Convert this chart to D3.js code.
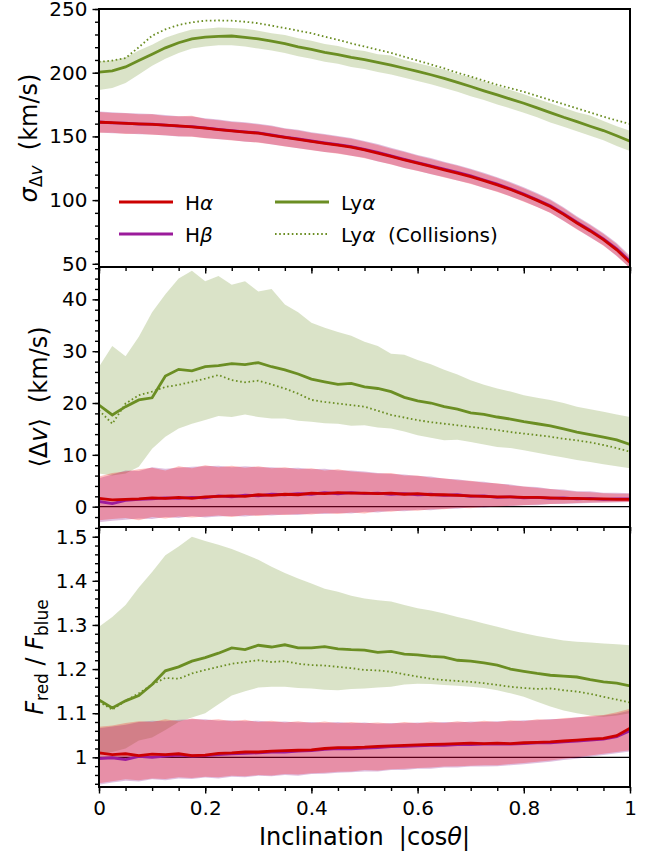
<!DOCTYPE html>
<html>
<head>
<meta charset="utf-8">
<script src="https://cdn.jsdelivr.net/npm/d3@7"></script>
<style>
body { margin: 0; background: #fff; }
text { font-family: "DejaVu Sans", sans-serif; }
</style>
</head>
<body>
<div id="chart"></div>
<script>
// inclination grid |cos theta|
const incl = [0,0.025,0.05,0.075,0.1,0.125,0.15,0.175,0.2,0.225,0.25,0.275,0.3,0.325,0.35,0.375,0.4,0.425,0.45,0.475,0.5,
              0.525,0.55,0.575,0.6,0.625,0.65,0.675,0.7,0.725,0.75,0.775,0.8,0.825,0.85,0.875,0.9,0.925,0.95,0.975,1];

// panel 1: sigma_dv (km/s)
const sigLya     = [200.5,201.5,204.5,209.5,214.5,219.5,223.5,226.5,228.0,228.5,228.8,227.8,226.5,224.8,222.8,220.2,218.3,216.0,214.2,212.0,210.3,208.2,206.0,203.5,201.0,198.4,195.6,192.4,189.2,185.8,182.6,179.3,176.0,172.4,168.7,165.0,161.6,158.0,154.6,150.5,146.2];
const sigLyaHi   = [209,209.5,212,217.5,222,227.5,231,234,234.5,235.5,235,234.5,233,231,229.5,227,225,222.5,221,218.5,217,214.5,213.5,210,207.5,205,202.5,199,196.5,193,189.5,186.5,183,179.5,176,172.5,169,166.5,162,158,154.5];
const sigLyaLo   = [186.5,188,192,198.5,205.5,211,215.5,219,220.5,221.5,221.5,220.5,219,217.5,215.5,213,211,208.5,207,204.5,203,200.5,198.5,196,193.5,191,188,185,181.5,178.5,175,172,168.5,165,161,157.5,154,150.5,147,142.5,138.5];
const sigLyaColl = [208.5,209.5,211.5,220,229,234,237.5,239.5,240.8,241,240.8,240,238.8,237,235,233,231,228.3,225.8,223,220.5,218,215.6,212.5,209.5,206.5,203.4,200,197,193.8,190.5,187.8,185,181.8,178.6,175.3,172,168.8,165.5,162.5,159.8];
const sigHa      = [161.1,160.8,160.3,159.9,159.5,158.8,158.2,157.4,156.5,155.4,154.4,153.4,152.5,150.9,149.2,147.7,146.1,144.6,143.2,141.5,139.5,136.9,134.3,131.5,129.0,126.4,123.8,121.2,118.5,115.3,112.0,108.3,104.2,99.8,95.0,88.8,82.0,75.8,69.0,61.0,51.0];
const sigHaHi    = [169.1,168.4,168.2,167.3,167.3,166.1,165.8,166.2,163.7,162.7,161.4,160.6,159.4,158.0,156.0,154.6,152.7,151.3,149.7,148.1,145.8,143.3,140.4,137.7,134.9,132.3,129.5,126.9,124.0,120.7,117.3,113.5,109.3,104.8,99.9,93.6,86.6,80.3,73.4,65.3,55.2];
const sigHaLo    = [152.8,152.8,151.9,152.0,151.3,151.0,150.2,149.8,148.6,147.9,146.8,146.1,145.1,143.8,142.0,140.8,139.1,137.8,136.4,134.9,132.9,130.5,127.9,125.3,122.8,120.4,117.8,115.4,112.7,109.7,106.4,102.9,98.8,94.6,89.8,83.8,77.0,71.0,64.2,56.4,46.5];
const sigHb      = [161.3,160.6,160.5,159.7,159.6,158.9,158.0,157.6,156.7,155.6,154.6,153.6,152.8,151.2,149.5,148.0,146.4,144.9,143.6,141.9,139.9,137.4,134.8,132.0,129.4,126.9,124.3,121.7,119.0,115.8,112.5,108.8,104.7,100.3,95.5,89.3,82.6,76.4,69.6,61.8,52.0];
const sigHbHi    = [169.5,168.9,168.4,167.9,167.5,166.8,165.9,165.6,164.2,163.3,161.8,161.2,159.9,158.6,156.4,155.2,153.3,151.9,150.3,148.8,146.4,144.0,141.0,138.4,135.5,133.0,130.2,127.6,124.7,121.4,118.0,114.2,110.0,105.6,100.6,94.4,87.4,81.1,74.2,66.3,56.4];
const sigHbLo    = [153.1,152.5,152.2,151.6,151.4,150.8,150.0,149.9,148.8,147.7,147.1,145.9,145.4,143.6,142.3,140.7,139.4,137.7,136.7,134.8,133.2,130.4,128.2,125.3,123.1,120.3,118.1,115.3,113.0,109.6,106.7,102.8,99.1,94.5,90.1,83.6,77.3,70.7,64.6,56.0,46.9];

// panel 2: <dv> (km/s)
const dvLya     = [19.6,17.7,19.3,20.6,21.0,25.2,26.5,26.2,27.0,27.2,27.6,27.4,27.8,27.0,26.4,25.6,24.6,24.1,23.6,23.8,23.1,22.8,22.2,21.1,20.4,20.0,19.3,18.8,18.1,17.8,17.3,16.9,16.4,16.0,15.6,15.0,14.4,13.9,13.4,12.9,12.0];
const dvLyaHi   = [27,31,29,32.8,37.5,41,44,45.5,43.5,44.5,42.8,43.5,41.5,42,39,37.5,35.5,34.5,33.7,33,31.8,31,29.5,29.3,28.3,27.5,26.4,25.5,24.4,23.5,22.8,22.2,21.5,21,20.6,20,19.3,18.8,18.3,17.8,17.3];
const dvLyaLo   = [6.4,6.0,6.4,7.7,11.2,13.5,15.1,16.0,16.7,17.5,17.3,17.8,17.3,17.0,17.0,16.6,16.4,16.1,16.0,15.6,15.7,15.3,15.1,14.5,13.8,13.3,12.8,12.9,12.5,12.0,11.5,11.3,10.9,10.4,9.9,9.5,9.0,8.6,8.2,7.8,7.4];
const dvLyaColl = [18.6,16.0,19.9,21.5,22.2,23.1,23.5,24.1,24.7,25.4,24.4,24.0,24.3,23.6,22.8,21.8,20.6,20.2,19.9,19.6,19.3,18.5,17.7,17.2,16.7,16.3,16.0,15.7,15.4,15.1,14.8,14.4,14.1,13.8,13.5,13.1,12.8,12.4,11.9,11.3,10.6];
const dvHa      = [1.6,1.3,1.4,1.5,1.7,1.6,1.8,1.6,1.9,2.0,2.1,2.0,2.3,2.2,2.4,2.3,2.6,2.5,2.7,2.6,2.6,2.5,2.6,2.4,2.5,2.3,2.3,2.2,2.1,2.0,1.9,1.9,1.8,1.8,1.7,1.6,1.6,1.5,1.5,1.4,1.4];
const dvHaHi    = [5.8,6.5,6.8,7.2,7.5,7.0,7.8,7.4,8.0,7.6,7.9,7.5,7.8,7.4,7.6,7.2,7.4,7.0,7.2,6.8,6.6,6.4,6.5,6.0,6.0,5.6,5.5,5.1,5.0,4.6,4.5,4.1,3.9,3.6,3.4,3.1,2.9,2.8,2.6,2.5,2.5];
const dvHaLo    = [-2.6,-2.4,-2.2,-2.6,-2.0,-2.3,-1.9,-2.1,-1.9,-1.7,-2.0,-1.6,-1.8,-1.5,-1.6,-1.4,-1.5,-1.2,-1.4,-1.1,-1.3,-0.9,-1.0,-0.7,-0.8,-0.5,-0.5,-0.2,-0.3,0.0,0.0,0.2,0.3,0.4,0.5,0.6,0.7,0.8,0.8,0.9,0.9];
const dvHb      = [1.0,0.6,1.2,1.4,1.5,1.7,1.6,1.8,1.7,2.1,1.9,2.2,2.1,2.4,2.3,2.5,2.4,2.7,2.5,2.7,2.5,2.6,2.4,2.5,2.3,2.4,2.2,2.3,2.0,2.1,1.8,1.9,1.7,1.8,1.6,1.7,1.5,1.6,1.4,1.5,1.5];
const dvHbHi    = [5.5,6.2,7.0,6.9,7.6,7.3,7.5,7.7,7.8,7.9,7.6,7.8,7.6,7.6,7.4,7.5,7.2,7.3,7.0,7.0,6.8,6.5,6.3,6.2,5.9,5.8,5.4,5.3,4.9,4.8,4.4,4.3,3.9,3.8,3.4,3.3,3.0,3.0,2.7,2.7,2.6];
const dvHbLo    = [-3.0,-2.7,-2.5,-2.3,-2.4,-2.0,-2.2,-1.8,-2.1,-1.9,-1.8,-1.9,-1.6,-1.7,-1.5,-1.6,-1.3,-1.4,-1.2,-1.3,-1.0,-1.1,-0.8,-0.9,-0.6,-0.7,-0.4,-0.4,-0.1,-0.2,0.1,0.1,0.3,0.3,0.5,0.5,0.6,0.7,0.8,0.8,0.9];

// panel 3: F_red / F_blue
const frLya     = [1.130,1.112,1.128,1.140,1.165,1.196,1.205,1.218,1.226,1.236,1.248,1.244,1.254,1.250,1.255,1.248,1.248,1.251,1.246,1.244,1.243,1.238,1.240,1.234,1.232,1.229,1.227,1.220,1.218,1.214,1.209,1.200,1.195,1.190,1.186,1.184,1.182,1.176,1.171,1.168,1.162];
const frLyaHi   = [1.296,1.318,1.345,1.385,1.420,1.458,1.478,1.500,1.490,1.482,1.472,1.460,1.448,1.432,1.418,1.405,1.394,1.382,1.375,1.366,1.360,1.356,1.353,1.345,1.338,1.333,1.326,1.318,1.311,1.303,1.296,1.288,1.281,1.275,1.270,1.265,1.262,1.260,1.258,1.256,1.254];
const frLyaLo   = [1.005,1.012,1.020,1.038,1.045,1.062,1.080,1.090,1.100,1.120,1.140,1.150,1.158,1.160,1.160,1.157,1.156,1.153,1.152,1.155,1.156,1.158,1.160,1.165,1.167,1.166,1.164,1.162,1.160,1.157,1.152,1.145,1.137,1.126,1.115,1.106,1.100,1.095,1.092,1.095,1.100];
const frLyaColl = [1.126,1.108,1.128,1.145,1.165,1.180,1.178,1.190,1.198,1.205,1.212,1.216,1.220,1.216,1.218,1.212,1.209,1.208,1.205,1.202,1.198,1.197,1.194,1.188,1.183,1.178,1.175,1.173,1.171,1.168,1.164,1.160,1.157,1.155,1.156,1.152,1.149,1.144,1.137,1.131,1.124];
const frHa      = [1.010,1.006,1.008,1.004,1.007,1.006,1.008,1.004,1.005,1.009,1.010,1.012,1.012,1.014,1.015,1.016,1.017,1.020,1.022,1.022,1.023,1.025,1.026,1.027,1.028,1.029,1.030,1.031,1.032,1.031,1.032,1.031,1.033,1.034,1.035,1.037,1.039,1.041,1.043,1.049,1.066];
const frHaHi    = [1.069,1.072,1.078,1.082,1.080,1.086,1.082,1.088,1.084,1.086,1.082,1.085,1.080,1.083,1.079,1.082,1.078,1.081,1.077,1.080,1.077,1.079,1.076,1.080,1.077,1.081,1.078,1.082,1.079,1.083,1.080,1.084,1.082,1.086,1.085,1.089,1.090,1.094,1.096,1.102,1.110];
const frHaLo    = [0.941,0.946,0.950,0.948,0.952,0.951,0.955,0.953,0.956,0.955,0.958,0.957,0.960,0.959,0.962,0.961,0.964,0.965,0.967,0.968,0.971,0.970,0.973,0.974,0.976,0.977,0.979,0.980,0.981,0.982,0.982,0.985,0.987,0.990,0.993,0.997,1.000,1.004,1.008,1.012,1.016];
const frHb      = [0.997,0.999,0.995,1.002,1.000,1.003,1.005,1.003,1.004,1.006,1.008,1.009,1.010,1.012,1.012,1.014,1.015,1.018,1.020,1.019,1.021,1.022,1.024,1.025,1.026,1.027,1.027,1.029,1.029,1.030,1.030,1.030,1.031,1.033,1.033,1.035,1.037,1.039,1.041,1.047,1.060];
const frHbHi    = [1.066,1.070,1.074,1.080,1.083,1.082,1.085,1.086,1.086,1.083,1.084,1.082,1.083,1.080,1.081,1.079,1.080,1.078,1.080,1.077,1.079,1.076,1.078,1.077,1.079,1.078,1.080,1.079,1.081,1.080,1.082,1.082,1.084,1.084,1.087,1.087,1.091,1.092,1.095,1.099,1.106];
const frHbLo    = [0.938,0.943,0.947,0.945,0.950,0.948,0.952,0.951,0.954,0.952,0.956,0.955,0.958,0.957,0.960,0.958,0.962,0.963,0.965,0.966,0.968,0.968,0.971,0.971,0.974,0.974,0.977,0.977,0.979,0.979,0.980,0.982,0.984,0.987,0.990,0.994,0.997,1.001,1.005,1.009,1.013];

// tick labels
const xTicks = [0, 0.2, 0.4, 0.6, 0.8, 1];
const sigTicks = [50, 100, 150, 200, 250];
const dvTicks = [0, 10, 20, 30, 40];
const frTicks = [1, 1.1, 1.2, 1.3, 1.4, 1.5];

const red = "#cc0000", purple = "#9b1b9b", green = "#6b8e23";

const width = 657, height = 856;
const svg = d3.select("#chart").append("svg")
    .attr("width", width)
    .attr("height", height);

const x = d3.scaleLinear().domain([0, 1]).range([99, 630]);

const panels = [
    {top: 9, bottom: 267, domain: [47.5, 250], major: sigTicks, minor: d3.range(50, 251, 10), ref: null,
     ha: sigHa, haLo: sigHaLo, haHi: sigHaHi, hb: sigHb, hbLo: sigHbLo, hbHi: sigHbHi,
     ly: sigLya, lyLo: sigLyaLo, lyHi: sigLyaHi, lyc: sigLyaColl},
    {top: 267, bottom: 527, domain: [-3.92, 46.24], major: dvTicks, minor: d3.range(-2, 47, 2), ref: 0,
     ha: dvHa, haLo: dvHaLo, haHi: dvHaHi, hb: dvHb, hbLo: dvHbLo, hbHi: dvHbHi,
     ly: dvLya, lyLo: dvLyaLo, lyHi: dvLyaHi, lyc: dvLyaColl},
    {top: 527, bottom: 787, domain: [0.9327, 1.522], major: frTicks, minor: d3.range(0.94, 1.53, 0.02), ref: 1,
     ha: frHa, haLo: frHaLo, haHi: frHaHi, hb: frHb, hbLo: frHbLo, hbHi: frHbHi,
     ly: frLya, lyLo: frLyaLo, lyHi: frLyaHi, lyc: frLyaColl}
];

function fmt(d) {
    return Math.abs(d - Math.round(d)) < 1e-9 ? String(Math.round(d)) : d3.format(".1f")(d);
}

function rich(sel, parts) {
    parts.forEach(function (pt) {
        const t = sel.append("tspan").text(pt.t);
        if (pt.i) t.attr("font-style", "italic");
        if (pt.fs) t.attr("font-size", pt.fs);
        if (pt.dy) t.attr("dy", pt.dy);
    });
}

panels.forEach(function (p, i) {
    const y = d3.scaleLinear().domain(p.domain).range([p.bottom, p.top]);
    const g = svg.append("g");

    svg.append("clipPath").attr("id", "clip" + i)
        .append("rect")
        .attr("x", x(0)).attr("y", p.top)
        .attr("width", x(1) - x(0)).attr("height", p.bottom - p.top);
    const plot = g.append("g").attr("clip-path", "url(#clip" + i + ")");

    if (p.ref !== null) {
        plot.append("line")
            .attr("x1", x(0)).attr("x2", x(1))
            .attr("y1", y(p.ref)).attr("y2", y(p.ref))
            .attr("stroke", "#000").attr("stroke-width", 1.3);
    }

    const band = (lo, hi) => d3.area()
        .x((d, j) => x(incl[j]))
        .y0((d, j) => y(lo[j]))
        .y1((d, j) => y(hi[j]));
    const line = d3.line().x((d, j) => x(incl[j])).y(d => y(d));

    plot.append("path").datum(incl).attr("d", band(p.lyLo, p.lyHi))
        .attr("fill", green).attr("fill-opacity", 0.25);
    plot.append("path").datum(incl).attr("d", band(p.hbLo, p.hbHi))
        .attr("fill", "#800080").attr("fill-opacity", 0.25);
    plot.append("path").datum(incl).attr("d", band(p.haLo, p.haHi))
        .attr("fill", "#ff0000").attr("fill-opacity", 0.25);

    plot.append("path").datum(p.lyc).attr("d", line)
        .attr("fill", "none").attr("stroke", green).attr("stroke-width", 1.8)
        .attr("stroke-dasharray", "1.6,2.6");
    plot.append("path").datum(p.ly).attr("d", line)
        .attr("fill", "none").attr("stroke", green).attr("stroke-width", 2.8);
    plot.append("path").datum(p.hb).attr("d", line)
        .attr("fill", "none").attr("stroke", purple).attr("stroke-width", 2.8);
    plot.append("path").datum(p.ha).attr("d", line)
        .attr("fill", "none").attr("stroke", red).attr("stroke-width", 2.8);

    // y axis, ticks outward
    const yMinor = g.append("g").attr("transform", "translate(" + x(0) + ",0)")
        .call(d3.axisLeft(y).tickValues(p.minor).tickSize(4).tickFormat(""));
    const yMajor = g.append("g").attr("transform", "translate(" + x(0) + ",0)")
        .call(d3.axisLeft(y).tickValues(p.major).tickSize(6.5).tickPadding(5).tickFormat(fmt));

    // x axis on the bottom of each panel
    const xMinor = g.append("g").attr("transform", "translate(0," + p.bottom + ")")
        .call(d3.axisBottom(x).tickValues(d3.range(0, 1.001, 0.05)).tickSize(4).tickFormat(""));
    const xMajor = g.append("g").attr("transform", "translate(0," + p.bottom + ")")
        .call(d3.axisBottom(x).tickValues(xTicks).tickSize(6.5).tickPadding(7)
            .tickFormat(i === 2 ? fmt : ""));

    [yMinor, yMajor, xMinor, xMajor].forEach(function (a) {
        a.select(".domain").remove();
        a.attr("font-size", 20).attr("font-family", "DejaVu Sans");
        a.selectAll("line").attr("stroke-width", 1.4);
        a.selectAll("text").attr("fill", "#000");
    });

    g.append("rect")
        .attr("x", x(0)).attr("y", p.top)
        .attr("width", x(1) - x(0)).attr("height", p.bottom - p.top)
        .attr("fill", "none").attr("stroke", "#000").attr("stroke-width", 2);
});

// y-axis titles
const lab1 = svg.append("text").attr("transform", "translate(37,138) rotate(-90)")
    .attr("text-anchor", "middle").attr("font-size", 24);
rich(lab1, [{t: "σ", i: true}, {t: "Δ", fs: 17, dy: 5}, {t: "v", i: true, fs: 17},
            {t: "\u00a0\u00a0(km/s)", dy: -5}]);

const lab2 = svg.append("text").attr("transform", "translate(47,397) rotate(-90)")
    .attr("text-anchor", "middle").attr("font-size", 24);
rich(lab2, [{t: "⟨Δ"}, {t: "v", i: true}, {t: "⟩\u00a0\u00a0(km/s)"}]);

const lab3 = svg.append("text").attr("transform", "translate(43,657) rotate(-90)")
    .attr("text-anchor", "middle").attr("font-size", 24);
rich(lab3, [{t: "F", i: true}, {t: "red", fs: 17, dy: 5}, {t: "\u00a0/\u00a0", dy: -5},
            {t: "F", i: true}, {t: "blue", fs: 17, dy: 5}]);

// x-axis title
const xlab = svg.append("text").attr("x", x(0.5)).attr("y", 845)
    .attr("text-anchor", "middle").attr("font-size", 24);
rich(xlab, [{t: "Inclination\u00a0\u00a0|cos"}, {t: "θ", i: true}, {t: "|"}]);

// legend
const legendItems = [
    {col: 0, row: 0, color: red, dash: null, w: 3, parts: [{t: "H"}, {t: "α", i: true}]},
    {col: 0, row: 1, color: purple, dash: null, w: 3, parts: [{t: "H"}, {t: "β", i: true}]},
    {col: 1, row: 0, color: green, dash: null, w: 3, parts: [{t: "Ly"}, {t: "α", i: true}]},
    {col: 1, row: 1, color: green, dash: "1.6,2.6", w: 1.8,
     parts: [{t: "Ly"}, {t: "α", i: true}, {t: "\u00a0\u00a0(Collisions)"}]}
];
const legend = svg.append("g");
legendItems.forEach(function (d) {
    const lx = d.col === 0 ? 119 : 275;
    const ly = d.row === 0 ? 202 : 234;
    legend.append("line")
        .attr("x1", lx).attr("x2", lx + 54)
        .attr("y1", ly).attr("y2", ly)
        .attr("stroke", d.color).attr("stroke-width", d.w)
        .attr("stroke-dasharray", d.dash);
    const t = legend.append("text")
        .attr("x", lx + 66).attr("y", ly + 7.5)
        .attr("font-size", 20);
    rich(t, d.parts);
});
</script>
</body>
</html>
